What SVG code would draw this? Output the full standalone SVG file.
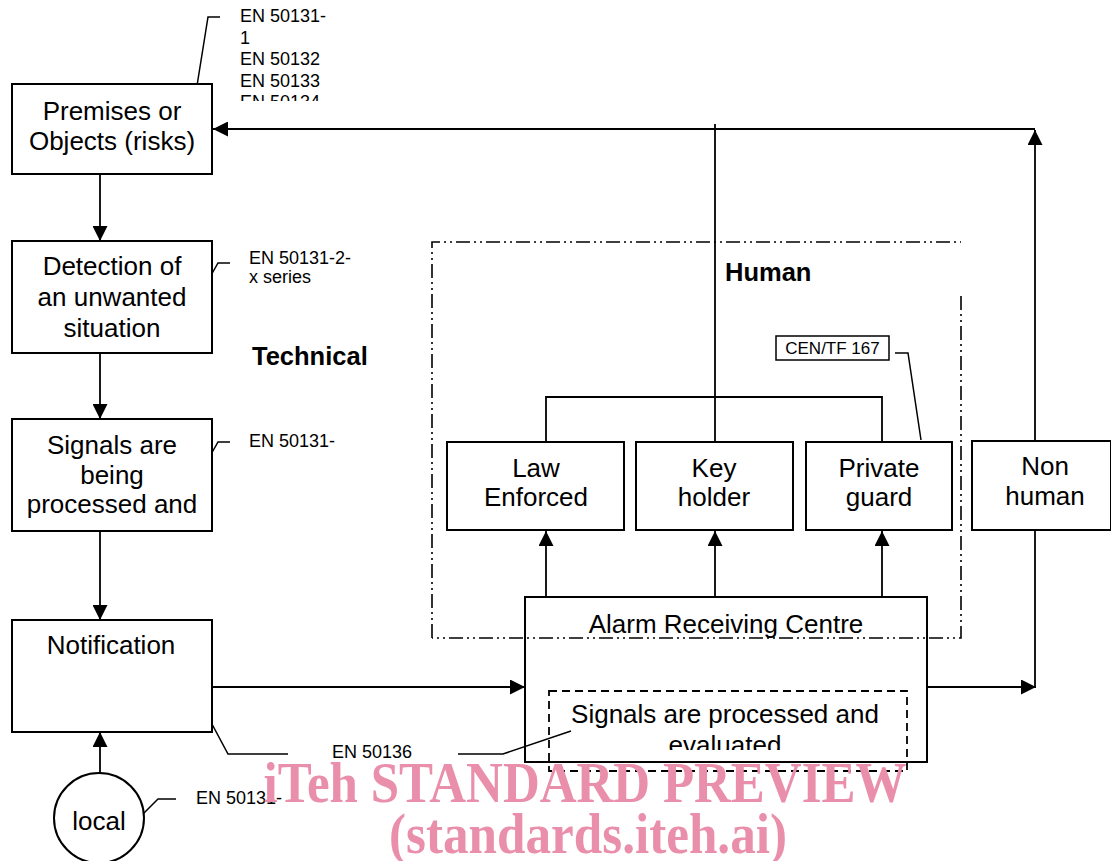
<svg xmlns="http://www.w3.org/2000/svg" width="1111" height="861" viewBox="0 0 1111 861">
  <style>
    .box { fill: #ffffff; stroke: #000000; stroke-width: 2; }
    .open { fill: none; stroke: #000000; stroke-width: 2; }
    .line { fill: none; stroke: #000000; stroke-width: 1.8; }
    .lead { fill: none; stroke: #000000; stroke-width: 1.5; }
    .dashdot { fill: none; stroke: #000000; stroke-width: 1.6; stroke-dasharray: 14 4 2 4 2 4; }
    .dashed { fill: none; stroke: #000000; stroke-width: 1.8; stroke-dasharray: 8 5; }
    .main { font-family: "Liberation Sans", Arial, sans-serif; font-size: 26px; fill: #000000; text-anchor: middle; }
    .small { font-family: "Liberation Sans", Arial, sans-serif; font-size: 18px; fill: #000000; }
    .bold { font-family: "Liberation Sans", Arial, sans-serif; font-size: 25.5px; font-weight: bold; fill: #000000; }
    .mark { font-family: "Liberation Serif", "Times New Roman", serif; font-size: 57px; font-weight: bold; fill: #ea8fab; text-anchor: middle; }
  </style>
  <defs>
    <marker id="arrow" markerUnits="userSpaceOnUse" markerWidth="15" markerHeight="15" refX="15" refY="7.5" orient="auto">
      <path d="M0,0 L15,7.5 L0,15 z" fill="#000000"/>
    </marker>
    <clipPath id="clipTopLabel"><rect x="230" y="0" width="150" height="101"/></clipPath>
    <clipPath id="clipSignals"><rect x="12" y="419" width="200" height="112"/></clipPath>
    <clipPath id="clipInner"><rect x="549" y="691" width="358" height="59"/></clipPath>
  </defs>

  <rect x="0" y="0" width="1111" height="861" fill="#ffffff"/>

  <!-- human intervention area -->
  <g id="human-area">
    <path class="dashdot" d="M432,638 L432,242 L961,242"/>
    <path class="dashdot" d="M961,296 L961,638 L432,638"/>
    <text class="bold" x="725" y="281">Human</text>
  </g>
  <text class="bold" x="252" y="365">Technical</text>

  <!-- connectors -->
  <g id="connectors">
    <line class="line" x1="100" y1="174" x2="100" y2="241" marker-end="url(#arrow)"/>
    <line class="line" x1="100" y1="353" x2="100" y2="419" marker-end="url(#arrow)"/>
    <line class="line" x1="100" y1="531" x2="100" y2="620" marker-end="url(#arrow)"/>
    <line class="line" x1="100" y1="773" x2="100" y2="732" marker-end="url(#arrow)"/>
    <line class="line" x1="212" y1="687" x2="525" y2="687" marker-end="url(#arrow)"/>
    <line class="line" x1="927" y1="687" x2="1036" y2="687" marker-end="url(#arrow)"/>
    <line class="line" x1="1035" y1="687" x2="1035" y2="130" marker-end="url(#arrow)"/>
    <line class="line" x1="1035" y1="129" x2="213" y2="129" marker-end="url(#arrow)"/>
    <line class="line" x1="715" y1="124" x2="715" y2="442"/>
    <path class="line" d="M546,442 L546,397 L882,397 L882,442"/>
    <line class="line" x1="546" y1="597" x2="546" y2="531" marker-end="url(#arrow)"/>
    <line class="line" x1="715" y1="597" x2="715" y2="531" marker-end="url(#arrow)"/>
    <line class="line" x1="882" y1="597" x2="882" y2="531" marker-end="url(#arrow)"/>
    <!-- reference leaders -->
    <path class="lead" d="M196,92 L208,17 L220,17"/>
    <path class="lead" d="M205,286 L218,263 L230,263"/>
    <path class="lead" d="M205,465 L218,442 L230,442"/>
    <path class="lead" d="M140,817 L158,799 L176,799"/>
    <path class="lead" d="M197,696 L228,754 L288,754"/>
    <path class="lead" d="M458,754 L503,754 L571,731"/>
    <path class="lead" d="M895,353 L908,353 L921,440"/>
  </g>

  <!-- left chain -->
  <g id="premises">
    <rect class="box" x="12" y="84" width="200" height="90"/>
    <text class="main" x="112" y="120">Premises or</text>
    <text class="main" x="112" y="150">Objects (risks)</text>
  </g>
  <g id="detection">
    <rect class="box" x="12" y="241" width="200" height="112"/>
    <text class="main" x="112" y="275">Detection of</text>
    <text class="main" x="112" y="306">an unwanted</text>
    <text class="main" x="112" y="337">situation</text>
  </g>
  <g id="signals">
    <rect class="box" x="12" y="419" width="200" height="112"/>
    <g clip-path="url(#clipSignals)">
      <text class="main" x="112" y="454">Signals are</text>
      <text class="main" x="112" y="484">being</text>
      <text class="main" x="112" y="513">processed and</text>
    </g>
  </g>
  <g id="notification">
    <rect class="box" x="12" y="620" width="200" height="112"/>
    <text class="main" x="111" y="654">Notification</text>
  </g>
  <g id="local">
    <circle class="box" cx="99" cy="818" r="45"/>
    <text class="main" x="99" y="830">local</text>
  </g>

  <!-- responders -->
  <g id="law-enforced">
    <rect class="box" x="447" y="442" width="177" height="88"/>
    <text class="main" x="536" y="477">Law</text>
    <text class="main" x="536" y="506">Enforced</text>
  </g>
  <g id="key-holder">
    <rect class="box" x="636" y="442" width="157" height="88"/>
    <text class="main" x="714" y="477">Key</text>
    <text class="main" x="714" y="506">holder</text>
  </g>
  <g id="private-guard">
    <rect class="box" x="806" y="442" width="146" height="88"/>
    <text class="main" x="879" y="477">Private</text>
    <text class="main" x="879" y="506">guard</text>
  </g>
  <g id="non-human">
    <rect class="box" x="972" y="441" width="139" height="89"/>
    <text class="main" x="1045" y="475">Non</text>
    <text class="main" x="1045" y="505">human</text>
  </g>

  <g id="arc">
    <rect class="open" x="525" y="597" width="402" height="165"/>
    <text class="main" x="726" y="633">Alarm Receiving Centre</text>
    <rect class="dashed" x="549" y="691" width="358" height="80"/>
    <g clip-path="url(#clipInner)">
      <text class="main" x="725" y="723">Signals are processed and</text>
      <text class="main" x="725" y="754">evaluated</text>
    </g>
  </g>

  <g id="cen-tf">
    <rect x="776" y="336" width="113" height="24" fill="#ffffff" stroke="#000000" stroke-width="1.5"/>
    <text class="small" x="832.5" y="354" style="text-anchor: middle; font-size: 17px;">CEN/TF 167</text>
  </g>

  <!-- standard references -->
  <g id="label-premises" clip-path="url(#clipTopLabel)">
    <text class="small" x="240" y="22">EN 50131-</text>
    <text class="small" x="240" y="44">1</text>
    <text class="small" x="240" y="65">EN 50132</text>
    <text class="small" x="240" y="87">EN 50133</text>
    <text class="small" x="240" y="108">EN 50134</text>
  </g>
  <g id="label-detection">
    <text class="small" x="249" y="264">EN 50131-2-</text>
    <text class="small" x="249" y="283">x series</text>
  </g>
  <text id="label-signals" class="small" x="249" y="447">EN 50131-</text>
  <text id="label-local" class="small" x="196" y="804">EN 50131-</text>
  <text id="label-transmission" class="small" x="332" y="758">EN 50136</text>

  <!-- overlay lettering -->
  <text class="mark" x="585" y="802" textLength="643" lengthAdjust="spacingAndGlyphs">iTeh STANDARD PREVIEW</text>
  <text class="mark" x="588" y="853" textLength="398" lengthAdjust="spacingAndGlyphs">(standards.iteh.ai)</text>
</svg>
